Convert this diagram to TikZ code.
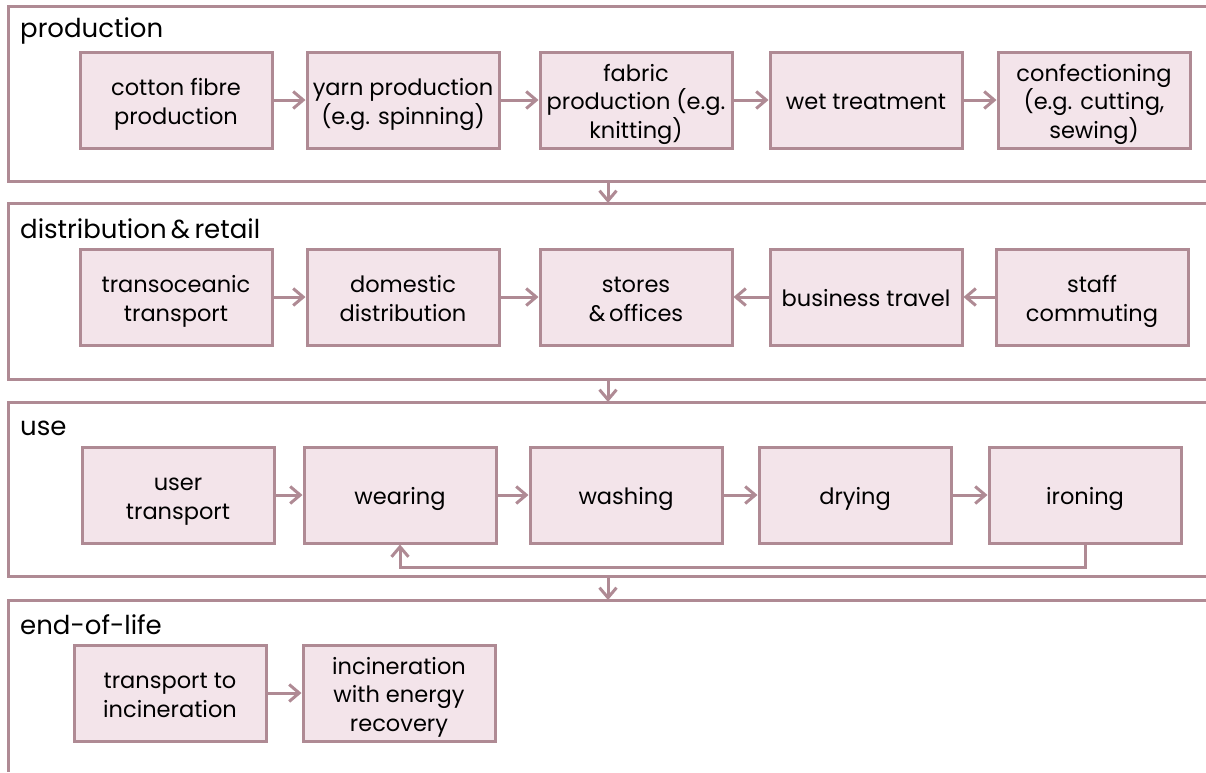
\documentclass[tikz,border=0pt]{standalone}
\usepackage{fontspec}
\setmainfont{Poppins}
\usetikzlibrary{arrows.meta}
\definecolor{mauve}{HTML}{AF8A94}
\definecolor{pinkfill}{HTML}{F3E4EA}
\newcommand{\T}{\rule{0pt}{28pt}}
\newcommand{\B}{\rule[-8.5pt]{0pt}{8.5pt}}
\begin{document}
\begin{tikzpicture}[x=1pt,y=-1pt,
  panel/.style={draw=mauve,line width=3pt},
  stepbox/.style={draw=mauve,fill=pinkfill,line width=3pt,minimum width=192pt,minimum height=96pt,align=center,inner sep=0pt,font=\fontsize{22.5}{28.5}\selectfont,text=black},
  plabel/.style={anchor=west,inner sep=0pt,font=\fontsize{26}{28}\selectfont},
  flow/.style={draw=mauve,line width=3pt,-{Straight Barb[length=10pt,width=17pt,line width=3pt]}}]
\useasboundingbox (0,0) rectangle (1206,772);
% panels
\draw[panel] (1206,6) -- (8,6) -- (8,181) -- (1206,181);
\draw[panel] (1206,203) -- (8,203) -- (8,379) -- (1206,379);
\draw[panel] (1206,402) -- (8,402) -- (8,576) -- (1206,576);
\draw[panel] (1206,600) -- (8,600) -- (8,772);
\coordinate (p1b) at (608,181);
\coordinate (p2t) at (608,203);
\coordinate (p2b) at (608,379);
\coordinate (p3t) at (608,402);
\coordinate (p3b) at (608,576);
\coordinate (p4t) at (608,600);
\node[plabel] (lprod) at (20,31) {production};
\node[plabel] (ldist) at (20,229) {distribution\,\&\,retail};
\node[plabel] (luse) at (20,428) {use};
\node[plabel] (leol) at (20,625) {end-of-life};
% row 1
\node[stepbox] (cotton) at (176,100) {\T cotton fibre\\production\B};
\node[stepbox] (yarn) at (403,100) {\T yarn production\\(e.g. spinning)\B};
\node[stepbox] (fabric) at (636,100) {\T fabric\\production (e.g.\\knitting)\B};
\node[stepbox] (wet) at (866,100) {\T wet treatment\B};
\node[stepbox] (conf) at (1094,100) {\T confectioning\\(e.g. cutting,\\sewing)\B};
% row 2
\node[stepbox] (trans) at (176,297) {\T transoceanic\\transport\B};
\node[stepbox] (dom) at (403,297) {\T domestic\\distribution\B};
\node[stepbox] (stores) at (636,297) {\T stores\\\&\,offices\B};
\node[stepbox] (bus) at (866,297) {\T business travel\B};
\node[stepbox] (staff) at (1092,297) {\T staff\\commuting\B};
% row 3
\node[stepbox] (user) at (178,495) {\T user\\transport\B};
\node[stepbox] (wear) at (400,495) {\T wearing\B};
\node[stepbox] (wash) at (626,495) {\T washing\B};
\node[stepbox] (dry) at (855,495) {\T drying\B};
\node[stepbox] (iron) at (1085,495) {\T ironing\B};
% row 4
\node[stepbox] (tinc) at (170,693) {\T transport to\\incineration\B};
\node[stepbox] (inc) at (399,693) {\T incineration\\with energy\\recovery\B};
% arrows
\draw[flow] (cotton) -- (yarn);
\draw[flow] (yarn) -- (fabric);
\draw[flow] (fabric) -- (wet);
\draw[flow] (wet) -- (conf);
\draw[flow] (trans) -- (dom);
\draw[flow] (dom) -- (stores);
\draw[flow] (bus) -- (stores);
\draw[flow] (staff) -- (bus);
\draw[flow] (user) -- (wear);
\draw[flow] (wear) -- (wash);
\draw[flow] (wash) -- (dry);
\draw[flow] (dry) -- (iron);
\draw[flow] (iron.south) -- ++(0,23) -| (wear.south);
\draw[flow] (tinc) -- (inc);
\draw[flow] (p1b) -- (p2t);
\draw[flow] (p2b) -- (p3t);
\draw[flow] (p3b) -- (p4t);
\end{tikzpicture}
\end{document}
